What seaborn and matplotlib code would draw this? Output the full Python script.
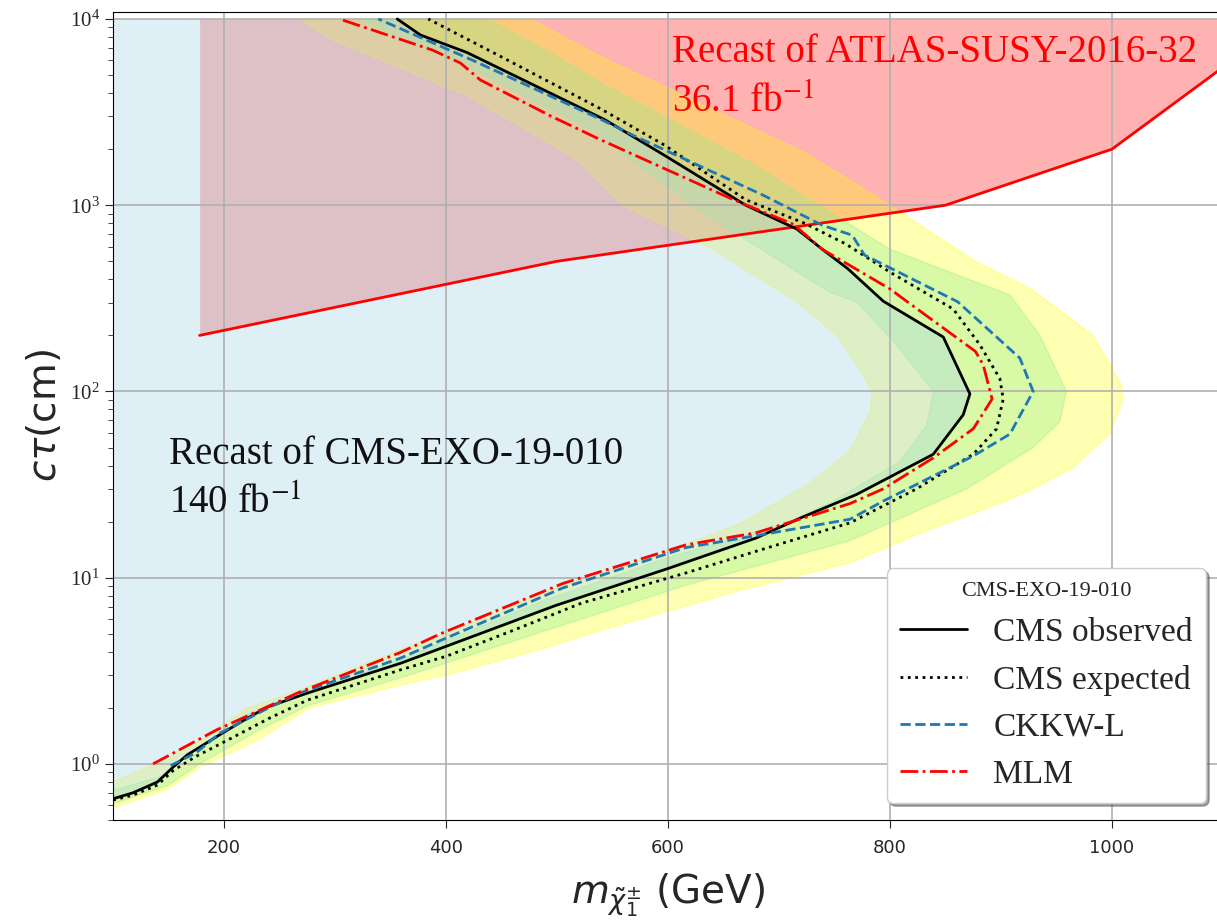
import matplotlib
matplotlib.use("Agg")
import matplotlib.pyplot as plt
import seaborn as sns
import numpy as np

# ── data (m in GeV, c*tau in cm) ─────────────────────────────────────
obs_m = [100, 118, 140, 154, 167, 199, 221, 239, 275, 359, 395, 499, 600, 679,
         720, 770, 839, 866, 872, 848, 794, 762, 739, 716, 670, 597, 543, 419,
         377, 356]
obs_ct = [0.65, 0.70, 0.80, 0.96, 1.12, 1.47, 1.76, 2.02, 2.4, 3.47, 4.17, 7.1,
          11.2, 16.3, 21, 28, 46, 75, 97, 196, 305, 456, 580, 745, 1000, 1850,
          2880, 6600, 8200, 10000]

exp_m = [100, 118, 140, 154, 175, 203, 240, 275, 359, 401, 460, 522, 616, 690,
         764, 824, 875, 896, 902, 899, 881, 857, 800, 760, 723, 670, 597, 539,
         449, 384]
exp_ct = [0.64, 0.68, 0.77, 0.92, 1.1, 1.34, 1.75, 2.2, 3.2, 3.8, 5.2, 7.3, 10.6,
          14.5, 19.7, 30, 46, 63, 91, 117, 178, 277, 437, 620, 800, 1070, 2100,
          3300, 6300, 10000]

ckkw_m = [152, 175, 196, 240, 268, 359, 395, 505, 616, 679, 764, 794, 875, 908,
          929, 917, 861, 777, 766, 739, 686, 570, 539, 424, 339]
ckkw_ct = [0.98, 1.15, 1.46, 2.0, 2.4, 3.7, 4.6, 8.8, 14.5, 16.8, 20.6, 25.8, 45,
           59, 100, 151, 303, 540, 690, 780, 1130, 2350, 2900, 6000, 10000]

mlm_m = [136, 193, 268, 359, 395, 505, 616, 679, 764, 794, 839, 875, 892, 884,
         877, 815, 800, 739, 713, 659, 539, 494, 431, 413, 388, 304]
mlm_ct = [1.0, 1.52, 2.43, 3.97, 5.0, 9.3, 15.0, 17.4, 25, 30, 44, 63, 91, 139,
          164, 305, 355, 580, 790, 1070, 2250, 3020, 4700, 5800, 6800, 10000]

# 2 sigma band (inner = low-mass side, outer = high-mass side)
y2in_m = [100, 130, 178, 221, 268, 359, 411, 490, 600, 664, 727, 764, 782, 784,
          770, 752, 716, 640, 559, 521, 509, 419, 298, 268]
y2in_ct = [0.80, 0.96, 1.34, 2.0, 2.5, 4.1, 5.4, 8.5, 14, 19.4, 32, 48, 78, 100,
           140, 200, 303, 580, 1000, 1700, 1900, 3870, 7700, 10000]
y2out_m = [100, 149, 178, 230, 277, 359, 401, 490, 539, 664, 764, 833, 899, 929,
           965, 998, 1010, 1008, 983, 927, 877, 800, 723, 539, 476]
y2out_ct = [0.58, 0.73, 0.96, 1.34, 2.0, 2.65, 3.0, 4.2, 5.2, 8.5, 12, 17.9, 25,
            30, 39, 59, 92, 110, 200, 356, 500, 1000, 1920, 6300, 10000]

# 1 sigma band
g1in_m = [100, 150, 221, 268, 359, 490, 600, 704, 749, 809, 833, 839, 806, 770,
          746, 701, 631, 559, 539, 419, 320]
g1in_ct = [0.72, 0.88, 1.85, 2.3, 3.65, 7.6, 12.8, 19.4, 25.8, 42, 66, 100, 178,
           303, 340, 500, 915, 1900, 2400, 5600, 10000]
g1out_m = [100, 150, 178, 230, 275, 359, 490, 616, 764, 869, 929, 953, 959, 935,
           908, 800, 674, 539, 494, 437]
g1out_ct = [0.61, 0.77, 1.0, 1.5, 2.05, 2.9, 5.2, 9.1, 15.8, 30, 50, 69, 100, 200,
            330, 580, 1700, 4550, 6600, 10000]

# ATLAS recast exclusion boundary
atlas_m = [178, 500, 850, 1000, 1100]
atlas_ct = [200, 500, 1000, 2000, 5500]

ct_top = 1e4

sns.set_style("ticks")
plt.rcParams["font.family"] = ["Liberation Serif", "DejaVu Serif"]
plt.rcParams["mathtext.fontset"] = "stix"

fig = plt.figure(figsize=(12.17, 9.23), dpi=100)
ax = fig.add_axes([0.0929, 0.1116, 0.912, 0.8754])
ax.set_yscale("log")

# ── filled regions ───────────────────────────────────────────────
ax.fill_between(atlas_m, atlas_ct, ct_top, color="red", alpha=0.3, lw=0)
ax.plot(atlas_m, atlas_ct, color="red", lw=2)

ax.fill(y2in_m + y2out_m[::-1], y2in_ct + y2out_ct[::-1],
        color="yellow", alpha=0.3, lw=1)
ax.fill(g1in_m + g1out_m[::-1], g1in_ct + g1out_ct[::-1],
        color="lightgreen", alpha=0.35, lw=1)
ax.fill(obs_m + [100], obs_ct + [ct_top], color="lightblue", alpha=0.4, lw=0)

# ── limit curves ─────────────────────────────────────────────────
sns.lineplot(x=obs_m, y=obs_ct, sort=False, estimator=None, color="black",
             lw=2, label="CMS observed", ax=ax)
sns.lineplot(x=exp_m, y=exp_ct, sort=False, estimator=None, color="black",
             lw=2, ls=":", label="CMS expected", ax=ax)
sns.lineplot(x=ckkw_m, y=ckkw_ct, sort=False, estimator=None, color="#1f77b4",
             lw=2, ls="--", label="CKKW-L", ax=ax)
sns.lineplot(x=mlm_m, y=mlm_ct, sort=False, estimator=None, color="red",
             lw=2, ls="-.", label="MLM", ax=ax)

ax.text(150, 58, "Recast of CMS-EXO-19-010\n140 fb$^{-1}$", fontsize=28,
        va="top", ha="left", color="#111111", linespacing=1.45)
ax.text(604, 8300, "Recast of ATLAS-SUSY-2016-32\n36.1 fb$^{-1}$", fontsize=28,
        va="top", ha="left", color="red", linespacing=1.45)

ax.set_xlim(100, 1100)
ax.set_ylim(0.5, 1.09e4)
ax.set_xticks([200, 400, 600, 800, 1000])
ax.set_axisbelow("line")
ax.grid(True, which="major", color="#b0b0b0", lw=1.2)
ax.tick_params(axis="x", labelsize=13, labelfontfamily="DejaVu Sans",
               direction="out", length=6, pad=8)
ax.tick_params(axis="y", which="major", labelsize=15, direction="out", length=6)
ax.tick_params(axis="y", which="minor", direction="out", length=3.5)
for s in ax.spines.values():
    s.set_color("black")

ax.set_xlabel(r"$m_{\tilde{\chi}_1^{\pm}}$ (GeV)", fontsize=28, labelpad=10,
              fontfamily="DejaVu Sans", math_fontfamily="dejavusans")
ax.set_ylabel(r"$c\tau$(cm)", fontsize=28, fontfamily="DejaVu Sans",
              math_fontfamily="dejavusans")

ax.legend(title="CMS-EXO-19-010", loc="lower right", fontsize=24,
          title_fontsize=16, shadow=True, fancybox=True, framealpha=1,
          edgecolor="#cccccc")

fig.savefig("out.png", dpi=100)
